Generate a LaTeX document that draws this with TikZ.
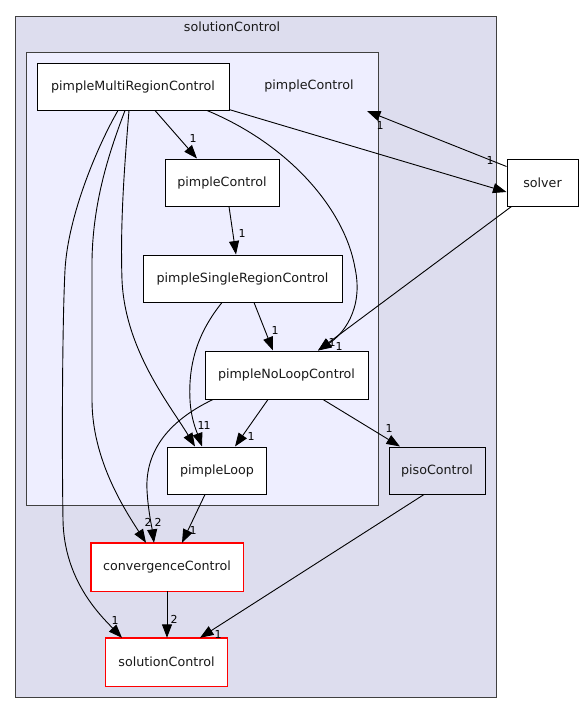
\documentclass[tikz,border=0pt]{standalone}
\usepackage{fontspec}
\setmainfont{DejaVu Sans}
\usetikzlibrary{arrows.meta}
\definecolor{outerfill}{HTML}{DDDDEE}
\definecolor{innerfill}{HTML}{EEEEFF}
\definecolor{clusterline}{HTML}{404040}
\definecolor{boxred}{HTML}{FF0000}
\tikzset{
  dirbox/.style={draw=black, line width=1pt, fill=white, inner sep=0pt,
    font=\fontsize{12.7}{15}\selectfont, text=black!90},
  redbox/.style={draw=none, fill=white, inner sep=0pt,
    font=\fontsize{12.7}{15}\selectfont, text=black!90},
  redline/.style={draw=boxred, line width=1.4pt},
  dep/.style={draw=black, line width=0.9pt, -{Triangle[length=13.5pt,width=10pt]}},
  elabel/.style={font=\fontsize{11}{12}\selectfont, inner sep=0pt, text=black},
  cluslabel/.style={font=\fontsize{12.7}{15}\selectfont, inner sep=0pt, text=black!90}
}
\begin{document}
\begin{tikzpicture}[x=1pt,y=-1pt]
\useasboundingbox (0,0) rectangle (584,713);
\fill[white] (0,0) rectangle (584,713);
% clusters
\node[draw=clusterline, line width=1pt, fill=outerfill, minimum width=481pt, minimum height=681pt, inner sep=0pt] (outer) at (255.5,356.5) {};
\node[cluslabel] (outerlabel) at (232,27) {solutionControl};
\node[draw=clusterline, line width=1pt, fill=innerfill, minimum width=352pt, minimum height=453pt, inner sep=0pt] (inner) at (202,278.5) {};
\node[cluslabel] (innerlabel) at (309,86) {pimpleControl};
% nodes
\node[dirbox, minimum width=192pt, minimum height=47pt] (mr) at (133,86.5) {pimpleMultiRegionControl};
\node[dirbox, minimum width=114pt, minimum height=47pt] (pc) at (222,182.5) {pimpleControl};
\node[dirbox, minimum width=199pt, minimum height=47pt] (psr) at (242.5,278.5) {pimpleSingleRegionControl};
\node[dirbox, minimum width=163pt, minimum height=48pt] (nl) at (286.5,375) {pimpleNoLoopControl};
\node[dirbox, minimum width=99pt, minimum height=47pt] (pl) at (217,470.5) {pimpleLoop};
\node[dirbox, fill=outerfill, minimum width=96pt, minimum height=47pt] (pi) at (437,470.5) {pisoControl};
\node[dirbox, minimum width=71pt, minimum height=47pt] (sv) at (542.5,182.5) {solver};
\node[redbox, minimum width=152pt, minimum height=48pt] (cv) at (167,567) {convergenceControl};
\node[redbox, minimum width=122pt, minimum height=48pt] (sc) at (166.5,662) {solutionControl};
\draw[redline] (cv.south west) rectangle (cv.north east);
\draw[redline] (sc.south west) rectangle (sc.north east);
\coordinate (pcin) at (367,111);
% edges
\draw[dep] ([xshift=22pt]mr.south) -- ([xshift=-25pt]pc.north);
\node[elabel] (l1) at (193,138) {1};
\draw[dep] ([xshift=74pt]mr.south) .. controls (290,145) and (345,210) .. (355,268)
  .. controls (364,310) and (342,335) .. ([xshift=31.5pt]nl.north);
\draw[dep] ([xshift=96pt,yshift=1pt]mr.south) -- ([yshift=-9.5pt]sv.west);
\node[elabel] (l2) at (490,160) {1};
\draw[dep] ([yshift=-8pt]sv.north west) -- (pcin);
\node[elabel] (l3) at (380,125) {1};
\draw[dep] ([xshift=5pt]sv.south west) -- ([xshift=31.5pt]nl.north);
\node[elabel] (l4) at (332,342) {1};
\node[elabel] (l5) at (339,346) {1};
\draw[dep] ([xshift=-15pt]mr.south) .. controls (98,145) and (68,215) .. (65,270)
  .. controls (62,330) and (62,460) .. (63,520)
  .. controls (64,580) and (100,615) .. ([xshift=-44.5pt]sc.north);
\node[elabel] (l6) at (115,620) {1};
\draw[dep] ([xshift=-8pt]mr.south) .. controls (110,150) and (93,200) .. (92,260)
  -- (92,400) .. controls (92,460) and (125,510) .. ([xshift=-21pt]cv.north);
\draw[dep] ([xshift=-4pt]mr.south) .. controls (125,160) and (120,220) .. (122,280)
  .. controls (125,350) and (170,405) .. ([xshift=-22pt]pl.north);
\draw[dep] ([xshift=7pt]pc.south) -- ([xshift=-6.5pt]psr.north);
\node[elabel] (l7) at (242,233) {1};
\draw[dep] ([xshift=11.5pt]psr.south) -- ([xshift=-13.5pt]nl.north);
\node[elabel] (l8) at (275,330) {1};
\draw[dep] ([xshift=-20.5pt]psr.south) .. controls (200,330) and (188,360) .. (190,400)
  .. controls (191,420) and (198,435) .. ([xshift=-15pt]pl.north);
\node[elabel] (l9) at (201,425) {1};
\node[elabel] (l10) at (207,425) {1};
\draw[dep] ([xshift=-18.5pt]nl.south) -- ([xshift=18pt]pl.north);
\node[elabel] (l11) at (251,436) {1};
\draw[dep] ([xshift=36.5pt]nl.south) -- ([xshift=-37pt]pi.north);
\node[elabel] (l12) at (389,428) {1};
\draw[dep] ([xshift=-73.5pt]nl.south) .. controls (170,420) and (145,450) .. (147,490)
  .. controls (148,510) and (152,528) .. ([xshift=-13pt]cv.north);
\node[elabel] (l13) at (148,522) {2};
\node[elabel] (l14) at (158,522) {2};
\draw[dep] ([xshift=-12pt]pl.south) -- ([xshift=15pt]cv.north);
\node[elabel] (l15) at (193,530) {1};
\draw[dep] (cv.south) -- (cv.south |- sc.north);
\node[elabel] (l16) at (174,619) {2};
\draw[dep] ([xshift=-13pt]pi.south) -- ([xshift=33.5pt]sc.north);
\node[elabel] (l17) at (218,634) {1};
\end{tikzpicture}
\end{document}
